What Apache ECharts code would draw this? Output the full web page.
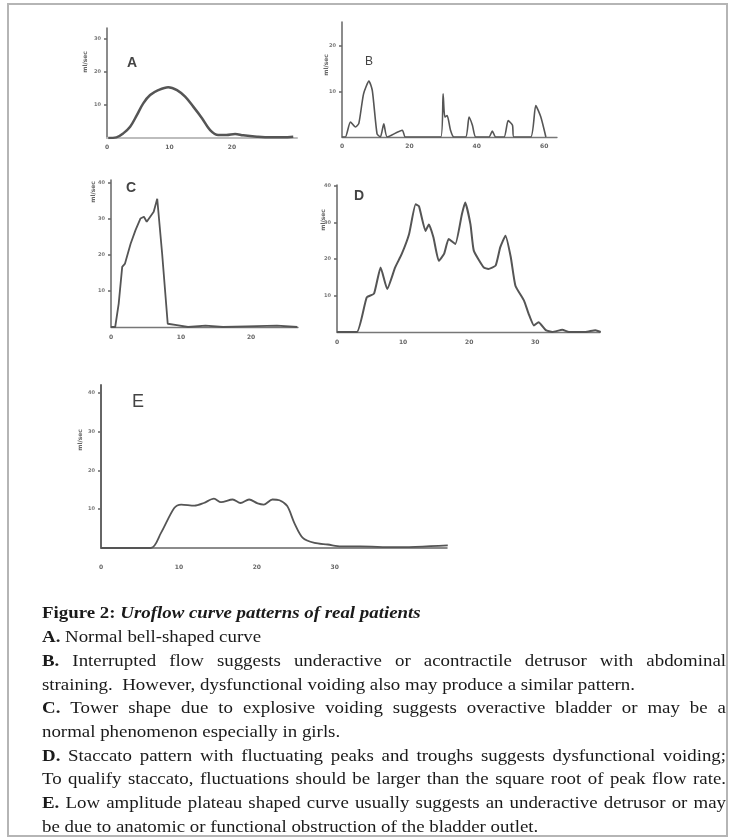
<!DOCTYPE html>
<html><head><meta charset="utf-8">
<script src="https://cdn.jsdelivr.net/npm/echarts@6/dist/echarts.min.js"></script>
<style>html,body{margin:0;padding:0;background:#fff}#c{width:731px;height:840px}</style>
</head><body><div id="c"></div>
<script>
// ---- data (time in s, flow in ml/sec) ----
const aTime = [0.2,1.5,2.6,3.7,4.8,5.8,6.9,8.2,9.8,11.2,12.5,13.8,15.2,16.5,17.8,19.1,20.5,21.8,24,26.1,28.2,29.8];
const aFlow = [0,0.2,1.4,3.4,7,10.5,13,14.5,15.4,14.5,12.5,9.5,6,2.4,0.9,0.9,1.2,0.8,0.4,0.2,0.2,0.4];
const bTime = [0,1,2.5,4,5,6.4,8,9,10.4,11.4,12.4,13.4,17.9,18.8,29.3,30,30.5,31.2,32.2,33.2,36.7,37.7,38.7,39.7,43.6,44.6,45.6,48.1,49.3,50.6,51,56,57.5,59,60.5];
const bFlow = [0,0,3.3,2.2,3,9.5,12.3,10.2,0.7,0,2.9,0,1.5,0,0,9.5,4.4,4.7,1.5,0,0,4.4,2.6,0,0,1.3,0,0,3.6,2.6,0,0,6.9,4.4,0];
const cTime = [0,0.6,1.1,1.6,2.0,2.8,3.5,4.2,4.7,5.1,5.6,6.1,6.6,7.3,8.1,9.4,11,13.5,16,19.4,23.7,26.6];
const cFlow = [0,0,6.5,16.7,17.6,23.1,26.9,30.1,30.6,29.2,30.6,32,35.6,20.4,0.9,0.5,0,0.4,0,0.2,0.4,0];
const dTime = [0,3,4.5,5.6,6.6,7.6,8.8,9.8,10.9,11.9,12.4,13.4,13.9,14.6,15.4,16.2,16.9,17.9,18.9,19.4,20.2,20.7,22.2,22.9,24,24.7,25.5,26.3,27,28.3,29,29.8,30.5,31.6,32.6,34.1,35.1,37.6,39.1,39.9];
const dFlow = [0,0,9.5,10.5,17.7,11.8,17.7,21.4,26.8,35,34.5,27.7,29.5,25.9,19.5,21.4,25.5,24.1,32.3,35.5,29.5,22.3,17.7,17.3,18.2,23.2,26.4,20.5,12.7,8.6,5,1.8,2.7,0.5,0,0.6,0,0,0.5,0];
const eTime = [0,0.6,6.4,7.7,9.4,10.3,12,13.2,14.5,15.4,16.9,17.9,19,20.1,20.9,22,22.9,23.9,24.8,25.9,27.4,29.1,30.8,33.3,37.6,44.5];
const eFlow = [0,0,0,3.9,10.3,11.2,10.9,11.6,12.7,11.8,12.5,11.6,12.5,11.5,11.2,12.5,12.3,10.8,6.5,2.6,1.3,0.9,0.4,0.4,0.2,0.7];

// ---- tick labels ----
const aXTicks = [0,10,20], aYTicks = [10,20,30];
const bXTicks = [0,20,40,60], bYTicks = [10,20];
const cXTicks = [0,10,20], cYTicks = [10,20,30,40];
const dXTicks = [0,10,20,30], dYTicks = [10,20,30,40];
const eXTicks = [0,10,20,30], eYTicks = [10,20,30,40];
const panelLetters = ['A','B','C','D','E'];
const yName = 'ml/sec';

const captionLines = [
  {segs:[['Figure 2: ','bold','normal'],['Uroflow curve patterns of real patients','bold','italic']], justify:false},
  {segs:[['A. ','bold','normal'],['Normal bell-shaped curve','normal','normal']], justify:false},
  {segs:[['B. ','bold','normal'],['Interrupted flow suggests underactive or acontractile detrusor with abdominal','normal','normal']], justify:true},
  {segs:[['straining.  However, dysfunctional voiding also may produce a similar pattern.','normal','normal']], justify:false},
  {segs:[['C. ','bold','normal'],['Tower shape due to explosive voiding suggests overactive bladder or may be a','normal','normal']], justify:true},
  {segs:[['normal phenomenon especially in girls.','normal','normal']], justify:false},
  {segs:[['D. ','bold','normal'],['Staccato pattern with fluctuating peaks and troughs suggests dysfunctional voiding;','normal','normal']], justify:true},
  {segs:[['To qualify staccato, fluctuations should be larger than the square root of peak flow rate.','normal','normal']], justify:true},
  {segs:[['E. ','bold','normal'],['Low amplitude plateau shaped curve usually suggests an underactive detrusor or may','normal','normal']], justify:true},
  {segs:[['be due to anatomic or functional obstruction of the bladder outlet.','normal','normal']], justify:false}
];

// ---- layout ----
const panels = [
  {t:aTime,f:aFlow,xt:aXTicks,yt:aYTicks,grid:{left:107,top:28,width:190,height:110},xmax:30.4,ymax:33.3,xm:6,lw:2.5,smooth:0.35,xAxisColor:'#bdbdbd',xAxisW:2},
  {t:bTime,f:bFlow,xt:bXTicks,yt:bYTicks,grid:{left:342,top:22,width:215,height:115},xmax:63.8,ymax:25.3,xm:6,lw:1.6,smooth:0.2,xAxisColor:'#777',xAxisW:1.3},
  {t:cTime,f:cFlow,xt:cXTicks,yt:cYTicks,grid:{left:111,top:180,width:187,height:147},xmax:26.7,ymax:40.8,xm:7,lw:1.8,smooth:false,xAxisColor:'#777',xAxisW:1.3},
  {t:dTime,f:dFlow,xt:dXTicks,yt:dYTicks,grid:{left:337,top:185,width:263,height:147},xmax:39.8,ymax:40.3,xm:7,lw:2,smooth:0.15,xAxisColor:'#777',xAxisW:1.3},
  {t:eTime,f:eFlow,xt:eXTicks,yt:eYTicks,grid:{left:101,top:385,width:346,height:163},xmax:44.4,ymax:42,xm:16,lw:1.8,smooth:0.3,xAxisColor:'#666',xAxisW:1.5}
];
const letterPos = [
  {x:127,y:56,size:14,weight:'bold'},
  {x:365,y:56,size:12,weight:'normal'},
  {x:126,y:181,size:14,weight:'bold'},
  {x:354,y:189,size:14,weight:'bold'},
  {x:132,y:393,size:18,weight:'normal'}
];
const yNamePos = [{x:85,y:62},{x:326,y:65},{x:93,y:192},{x:323,y:220},{x:80,y:440}];

const grids=[],xAxes=[],yAxes=[],series=[],graphics=[];
panels.forEach((p,i)=>{
  grids.push(Object.assign({containLabel:false,outerBoundsMode:'none'},p.grid));
  xAxes.push({type:'value',gridIndex:i,min:0,max:p.xmax,
    axisLine:{show:true,onZero:false,lineStyle:{color:p.xAxisColor,width:p.xAxisW}},
    axisTick:{show:false},splitLine:{show:false},
    axisLabel:{customValues:p.xt,fontSize:6,fontWeight:'bold',color:'#666',margin:p.xm,fontFamily:'DejaVu Sans'}});
  yAxes.push({type:'value',gridIndex:i,min:0,max:p.ymax,
    axisLine:{show:true,lineStyle:{color:'#666',width:i===4?2:1.5}},
    axisTick:{show:true,customValues:p.yt,length:3,lineStyle:{color:'#666',width:1.5}},
    splitLine:{show:false},
    axisLabel:{customValues:p.yt,fontSize:5,fontWeight:'bold',color:'#777',margin:6,fontFamily:'DejaVu Sans'}});
  series.push({type:'line',xAxisIndex:i,yAxisIndex:i,showSymbol:false,symbol:'none',smooth:p.smooth,
    data:p.t.map((v,k)=>[v,p.f[k]]),lineStyle:{color:'#555',width:p.lw},silent:true,animation:false});
  const lp=letterPos[i];
  graphics.push({type:'text',x:lp.x,y:lp.y,style:{text:panelLetters[i],font:lp.weight+' '+lp.size+'px "Liberation Sans"',fill:'#444'}});
  const np=yNamePos[i];
  graphics.push({type:'text',x:np.x,y:np.y,rotation:Math.PI/2,style:{text:yName,font:'bold 6px "DejaVu Sans"',fill:'#666',align:'center',verticalAlign:'middle'}});
});

// frame
graphics.push({type:'rect',shape:{x:8,y:4,width:719,height:832},style:{fill:'none',stroke:'#b5b5b5',lineWidth:2}});

// caption with justification
const FS=17, SX=1.11, FAM='"Liberation Serif"', LEFT=42, RIGHT=726, TOP=614, LH=23.7;
const ctx=document.createElement('canvas').getContext('2d');
function fnt(w,s){return s+' '+w+' '+FS+'px '+FAM;}
captionLines.forEach((ln,li)=>{
  const y=TOP+LH*li;
  const words=[];
  ln.segs.forEach(sg=>{sg[0].split(/\s+/).filter(Boolean).forEach(w=>words.push({t:w,w:sg[1],s:sg[2]}));});
  words.forEach(w=>{ctx.font=fnt(w.w,w.s);w.width=ctx.measureText(w.t).width*SX;});
  ctx.font=fnt('normal','normal');
  const sp=ctx.measureText(' ').width*SX;
  let gap=sp;
  if(ln.justify){const sum=words.reduce((a,w)=>a+w.width,0);gap=(RIGHT-LEFT-sum)/(words.length-1);}
  let x=LEFT;
  words.forEach((w,k)=>{
    graphics.push({type:'text',x:x,y:y,scaleX:SX,style:{text:w.t,font:fnt(w.w,w.s),fill:'#1a1a1a',verticalAlign:'middle'}});
    x+=w.width+gap;
    if(!ln.justify && w.t==='straining.') x+=sp;
  });
});

const chart=echarts.init(document.getElementById('c'),null,{renderer:'canvas'});
chart.setOption({animation:false,backgroundColor:'#fff',grid:grids,xAxis:xAxes,yAxis:yAxes,series:series,graphic:graphics});
</script></body></html>
